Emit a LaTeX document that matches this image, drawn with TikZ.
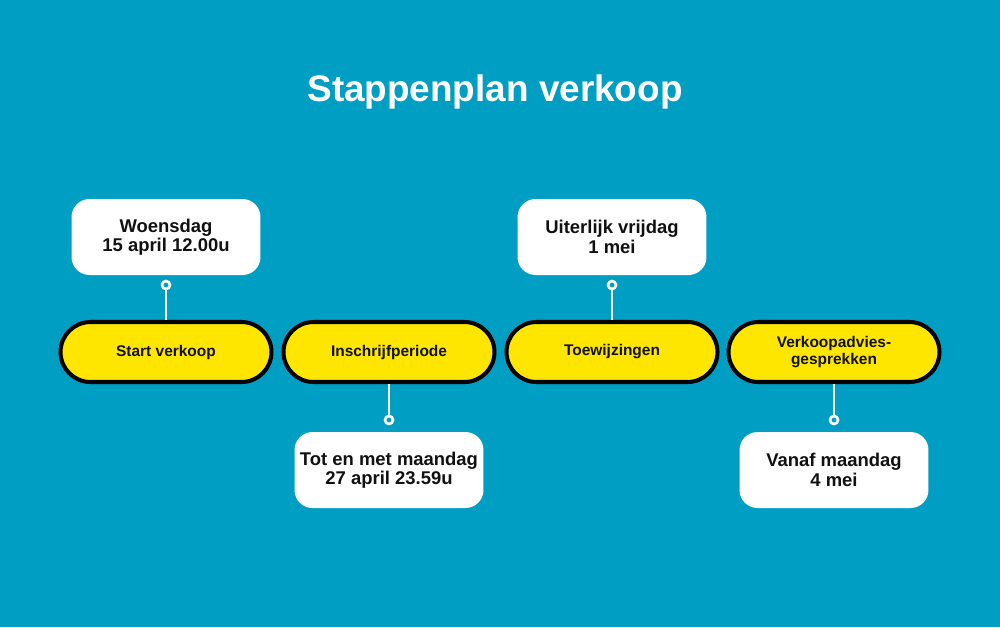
\documentclass[tikz,border=0pt]{standalone}
\usepackage{fontspec}
\setmainfont{Liberation Sans}
\definecolor{bgblue}{HTML}{009EC2}
\definecolor{pillyellow}{HTML}{FFE600}
\definecolor{ink}{HTML}{111111}
\begin{document}
\begin{tikzpicture}[x=0.02cm,y=-0.02cm,
  pill/.style={rounded rectangle, draw=black, line width=2.3pt, fill=pillyellow,
    minimum width=4.22cm, minimum height=1.2cm, inner sep=0pt, align=center,
    font=\fontsize{8.8}{9.8}\selectfont\bfseries, text=ink},
  datebox/.style={rectangle, rounded corners=0.36cm, fill=white,
    minimum width=3.78cm, minimum height=1.52cm, inner sep=0pt, align=center,
    font=\fontsize{10.5}{11}\selectfont\bfseries, text=ink},
  dot/.style={circle, draw=white, line width=1.5pt, fill=bgblue, minimum size=0.16cm, inner sep=0pt},
  conn/.style={draw=white, line width=1.6pt}]
\usetikzlibrary{shapes.misc}
\fill[bgblue] (0,0) rectangle (1000,627);
\useasboundingbox (0,0) rectangle (1000,627);
\node[text=white, font=\fontsize{21}{24}\selectfont\bfseries] (title) at (495,92) {Stappenplan verkoop};
% pills
\node[pill] (p1) at (166,352) {Start verkoop};
\node[pill] (p2) at (389,352) {Inschrijfperiode};
\node[pill] (p3) at (612,352) {Toewijzingen};
\node[pill] (p4) at (834,352) {Verkoopadvies-\\gesprekken};
% date boxes
\node[datebox] (b1) at (166,237) {Woensdag\\15 april 12.00u};
\node[datebox] (b3) at (612,237) {Uiterlijk vrijdag\\1 mei};
\node[datebox] (b2) at (389,470) {Tot en met maandag\\27 april 23.59u};
\node[datebox] (b4) at (834,470) {Vanaf maandag\\4 mei};
% connectors
\node[dot] (d1) at (166,285) {};
\node[dot] (d3) at (612,285) {};
\node[dot] (d2) at (389,420) {};
\node[dot] (d4) at (834,420) {};
\draw[conn] (d1.south) -- (p1.north);
\draw[conn] (d3.south) -- (p3.north);
\draw[conn] (p2.south) -- (d2.north);
\draw[conn] (p4.south) -- (d4.north);
\end{tikzpicture}
\end{document}
